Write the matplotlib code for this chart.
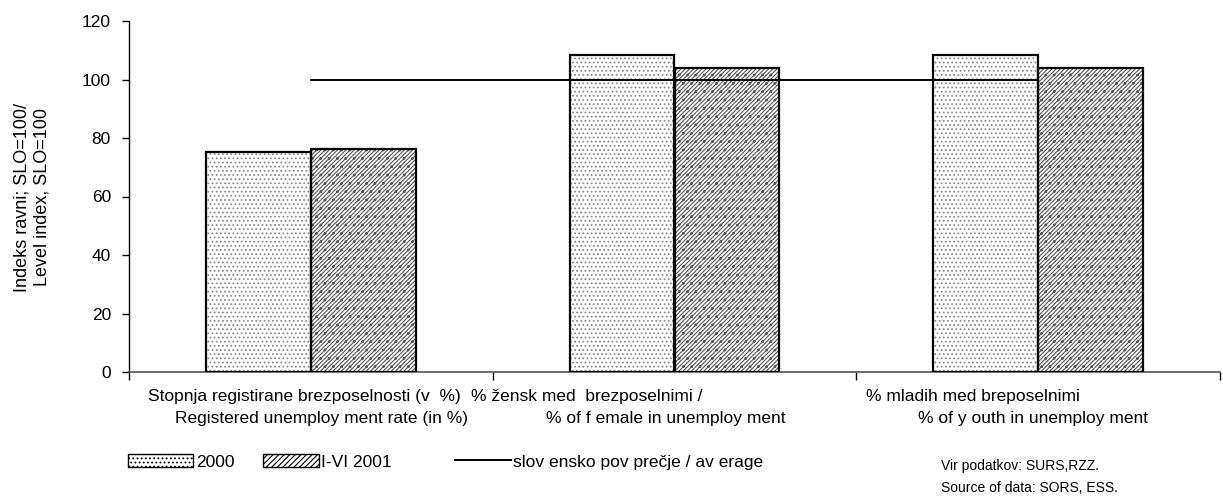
import matplotlib
matplotlib.use("Agg")
import matplotlib.pyplot as plt
from matplotlib.patches import Patch
from matplotlib.lines import Line2D
import numpy as np

plt.rcParams['font.family'] = ['Liberation Sans', 'DejaVu Sans']
plt.rcParams['hatch.linewidth'] = 0.8

categories = ["Stopnja registirane brezposelnosti (v %)\nRegistered unemployment rate (in %)",
              "% žensk med brezposelnimi /\n% of female in unemployment",
              "% mladih med breposelnimi\n% of youth in unemployment"]
label_line1 = ["Stopnja registirane brezposelnosti (v  %)",
               "% žensk med  brezposelnimi /",
               "% mladih med breposelnimi"]
label_line2 = ["Registered unemploy ment rate (in %)",
               "% of f emale in unemploy ment",
               "% of y outh in unemploy ment"]
values_2000 = [75.3, 108.4, 108.3]
values_2001 = [76.1, 104.1, 104.1]
average = [100, 100, 100]
yticks = [0, 20, 40, 60, 80, 100, 120]

fig = plt.figure(figsize=(12.23, 5.03), dpi=100)
ax = fig.add_axes([129/1223, 1-372/503, (1220-129)/1223, (372-21)/503])

x = np.arange(len(categories))
w = 0.288
# hatch layers
ax.bar(x - w/2, values_2000, w, align='center', facecolor='white',
       edgecolor='#8a8a8a', hatch='....', linewidth=0, zorder=2)
ax.bar(x + w/2, values_2001, w, align='center', facecolor='white',
       edgecolor='#555555', hatch='////////..', linewidth=0, zorder=2)
# outlines
ax.bar(x - w/2, values_2000, w, align='center', fill=False,
       edgecolor='black', linewidth=1.6, zorder=3)
ax.bar(x + w/2, values_2001, w, align='center', fill=False,
       edgecolor='black', linewidth=1.6, zorder=3)
ax.plot(x, average, color='black', linewidth=1.4, zorder=4)

ax.set_xlim(-0.5, 2.5)
ax.set_ylim(0, 120)
ax.set_yticks(yticks)
ax.set_yticklabels([str(t) for t in yticks], fontsize=12.5)
ax.set_xticks([-0.5, 0.5, 1.5, 2.5])
ax.set_xticklabels([])
ax.tick_params(axis='y', direction='out', length=5, width=1, pad=8)
ax.tick_params(axis='x', direction='out', length=6, width=1)
for s in ['top', 'right']:
    ax.spines[s].set_visible(False)
ax.spines['left'].set_linewidth(1)
ax.spines['bottom'].set_color('#555555')
ax.spines['bottom'].set_linewidth(1.2)

fig.text(32/1223, 1-197/503, "Indeks ravni; SLO=100/\nLevel index, SLO=100", fontsize=13,
         rotation=90, ha='center', va='center', linespacing=1.25, multialignment='center')

# category labels (two lines each)
l1x = [148, 471, 866]
l2x = [175, 546, 918]
for i in range(3):
    fig.text(l1x[i]/1223, 1-397/503, label_line1[i], fontsize=12.5, ha='left', va='center')
    fig.text(l2x[i]/1223, 1-419/503, label_line2[i], fontsize=12.5, ha='left', va='center')

# legends
def make_leg(handle, label, xpx, hl):
    leg = fig.legend([handle], [label], loc='center left',
                     bbox_to_anchor=(xpx/1223, 1-462/503), frameon=False,
                     fontsize=12.5, handlelength=hl, handletextpad=0.15,
                     borderpad=0, borderaxespad=0, handleheight=0.75)
    return leg

h1 = Patch(facecolor='white', edgecolor='black', hatch='....', linewidth=1)
h2 = Patch(facecolor='white', edgecolor='black', hatch='//////', linewidth=1)
h3 = Line2D([0], [0], color='black', linewidth=1.4)
make_leg(h1, "2000", 128, 3.75)
make_leg(h2, "I-VI 2001", 263, 3.2)
make_leg(h3, "slov ensko pov prečje / av erage", 455, 3.2)

fig.text(941/1223, 1-466/503, "Vir podatkov: SURS,RZZ.", fontsize=10, ha='left', va='center')
fig.text(941/1223, 1-488/503, "Source of data: SORS, ESS.", fontsize=10, ha='left', va='center')

fig.savefig("out.png", dpi=100)
